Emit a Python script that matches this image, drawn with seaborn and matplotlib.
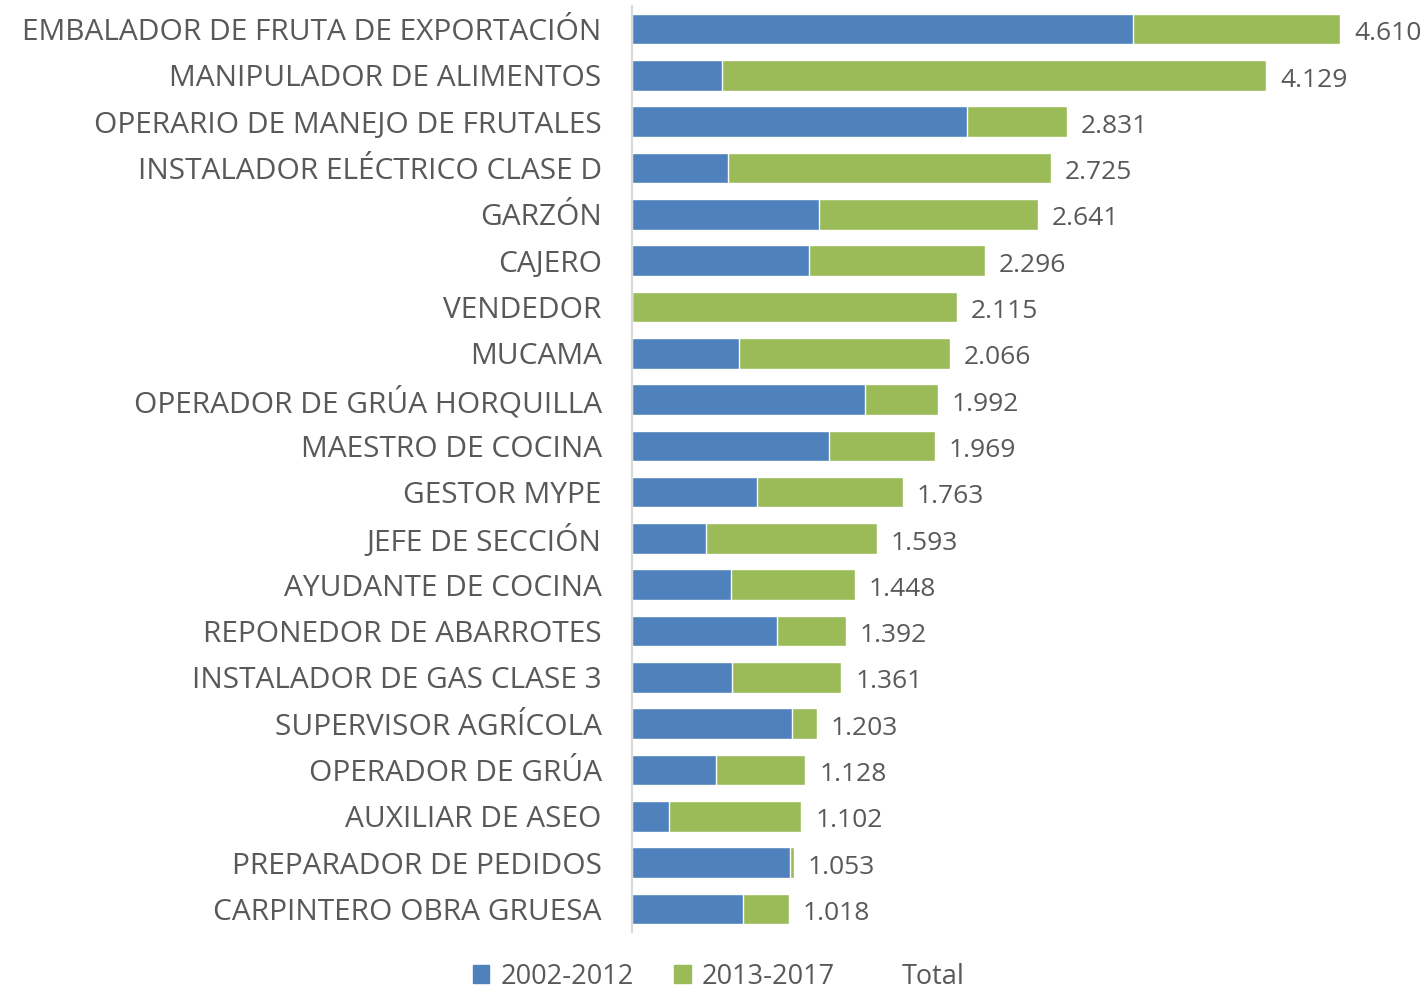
import matplotlib.pyplot as plt
import seaborn as sns
import pandas as pd
from matplotlib.patches import Patch

oficios = ['EMBALADOR DE FRUTA DE EXPORTACIÓN', 'MANIPULADOR DE ALIMENTOS',
           'OPERARIO DE MANEJO DE FRUTALES', 'INSTALADOR ELÉCTRICO CLASE D',
           'GARZÓN', 'CAJERO', 'VENDEDOR', 'MUCAMA', 'OPERADOR DE GRÚA HORQUILLA',
           'MAESTRO DE COCINA', 'GESTOR MYPE', 'JEFE DE SECCIÓN', 'AYUDANTE DE COCINA',
           'REPONEDOR DE ABARROTES', 'INSTALADOR DE GAS CLASE 3', 'SUPERVISOR AGRÍCOLA',
           'OPERADOR DE GRÚA', 'AUXILIAR DE ASEO', 'PREPARADOR DE PEDIDOS',
           'CARPINTERO OBRA GRUESA']
p2002_2012 = [3262, 586, 2181, 625, 1217, 1152, 0, 697, 1517, 1283,
              814, 482, 645, 944, 651, 1042, 547, 241, 1029, 723]
total = [4610, 4129, 2831, 2725, 2641, 2296, 2115, 2066, 1992, 1969,
         1763, 1593, 1448, 1392, 1361, 1203, 1128, 1102, 1053, 1018]

df = pd.DataFrame({'oficio': oficios, 'a': p2002_2012, 'total': total})

sns.set_style('white')
plt.rcParams['font.family'] = ['Open Sans', 'DejaVu Sans']
azul = '#4F81BD'
verde = '#9BBB59'
gris = '#595959'

fig = plt.figure(figsize=(14.24, 10), dpi=100)
ax = fig.add_axes([0.444, 0.068, 0.556, 0.926])

# stacked: total in green, first period in blue over it
sns.barplot(data=df, x='total', y='oficio', color=verde, width=0.66, ax=ax, saturation=1)
sns.barplot(data=df, x='a', y='oficio', color=azul, width=0.66, ax=ax, saturation=1)

for i, t in enumerate(total):
    txt = f'{t:,}'.replace(',', '.')
    ax.text(t + 90, i + 0.1, txt, va='center', ha='left', fontsize=19, color=gris)

ax.set_xlim(0, 5156)
ax.set_ylim(19.5, -0.5)
ax.set_xlabel('')
ax.set_ylabel('')
ax.set_xticks([])
ax.tick_params(axis='y', length=0, pad=22, labelsize=21.5, labelcolor=gris)
for s in ['top', 'right', 'bottom']:
    ax.spines[s].set_visible(False)
ax.spines['left'].set_color('#D9D9D9')
ax.spines['left'].set_linewidth(1.5)

handles = [Patch(color=azul, label='2002-2012'),
           Patch(color=verde, label='2013-2017'),
           Patch(color='none', label='Total')]
fig.legend(handles=handles, loc='lower center', bbox_to_anchor=(0.505, -0.015), ncol=3,
           frameon=False, fontsize=19.5, labelcolor=gris, handlelength=0.6,
           handleheight=0.6, columnspacing=1.5, handletextpad=0.4)

fig.savefig('out.png', dpi=100)
